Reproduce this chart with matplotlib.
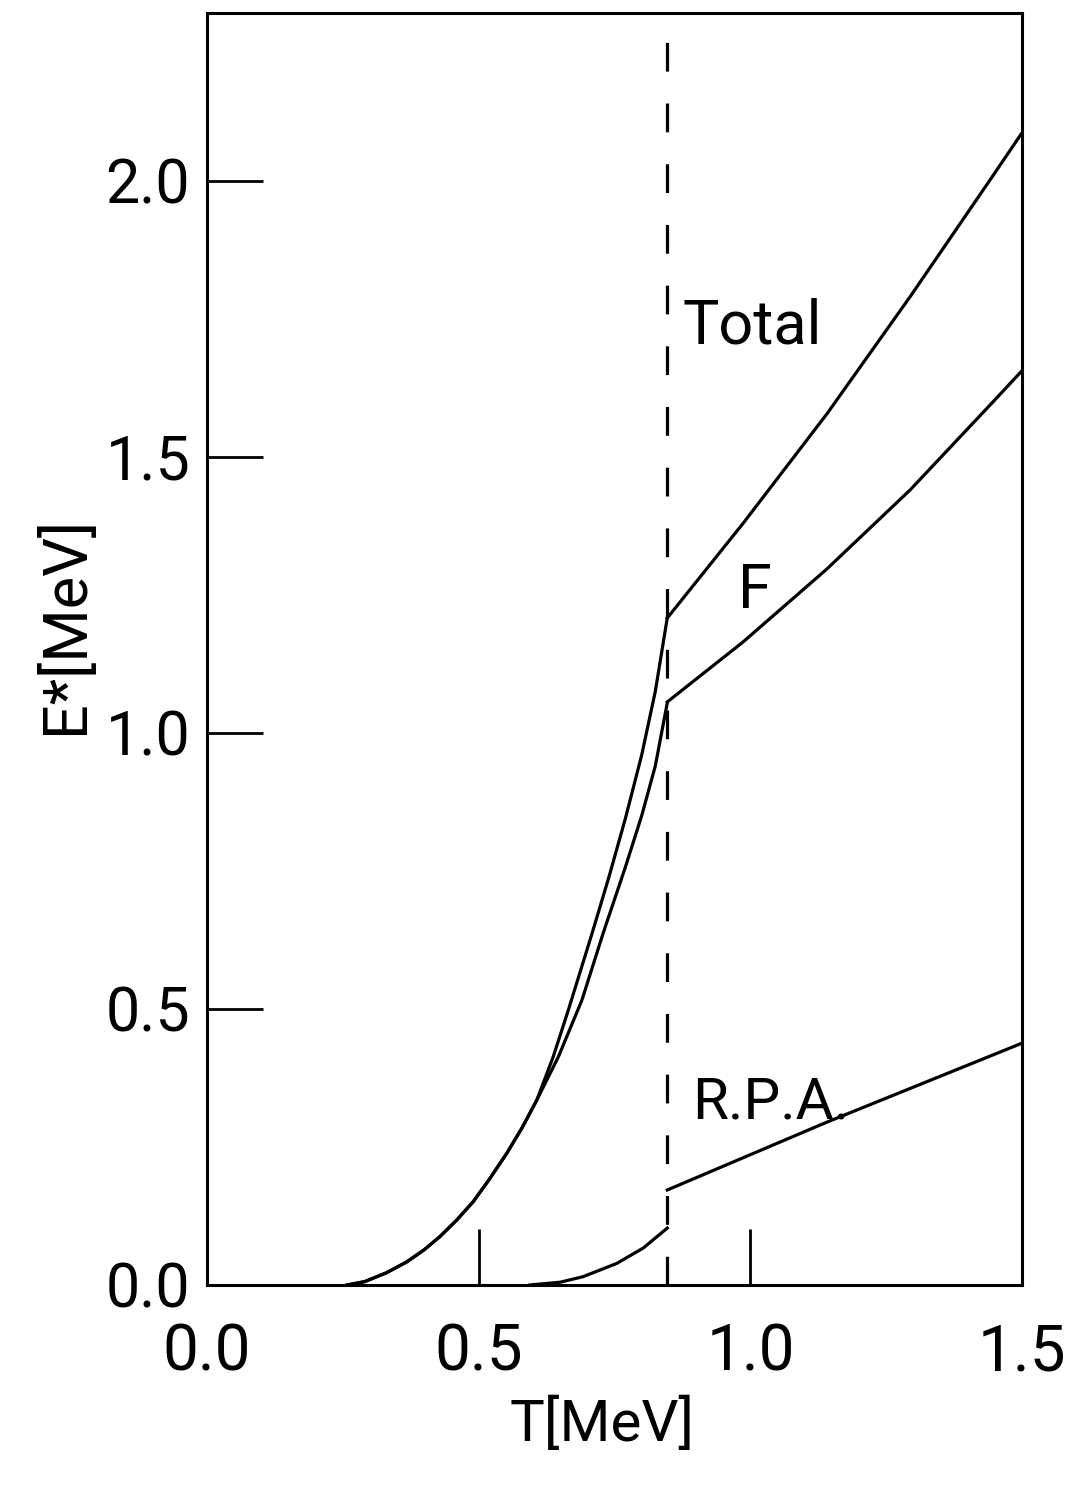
import matplotlib
matplotlib.use('Agg')
import matplotlib.pyplot as plt

# низкотемпературная ветвь (общая часть Total и F до расхождения)
T_total_lo = [0.258, 0.290, 0.330, 0.368, 0.400, 0.429, 0.460, 0.490, 0.520, 0.552, 0.580, 0.607,
              0.637, 0.665, 0.709, 0.740, 0.770, 0.800, 0.825, 0.847]
E_total_lo = [0.000, 0.006, 0.022, 0.042, 0.064, 0.088, 0.118, 0.151, 0.192, 0.239, 0.285, 0.335,
              0.413, 0.498, 0.638, 0.740, 0.845, 0.960, 1.075, 1.208]

T_f_lo = [0.258, 0.290, 0.330, 0.368, 0.400, 0.429, 0.460, 0.490, 0.520, 0.552, 0.580, 0.607,
          0.647, 0.690, 0.729, 0.770, 0.800, 0.825, 0.847]
E_f_lo = [0.000, 0.006, 0.022, 0.042, 0.064, 0.088, 0.118, 0.151, 0.192, 0.239, 0.285, 0.335,
          0.414, 0.516, 0.637, 0.757, 0.850, 0.940, 1.054]

T_rpa_lo = [0.594, 0.650, 0.692, 0.754, 0.803, 0.847]
E_rpa_lo = [0.000, 0.005, 0.015, 0.039, 0.067, 0.103]

# выше критической температуры
T_hi = [0.847, 0.987, 1.141, 1.294, 1.447, 1.500]
E_total_hi = [1.208, 1.380, 1.578, 1.790, 2.010, 2.087]
E_f_hi = [1.056, 1.165, 1.297, 1.440, 1.600, 1.656]

T_rpa_hi = [0.847, 1.141, 1.500]
E_rpa_hi = [0.172, 0.295, 0.438]

T_crit = 0.847

x_ticks = [0.0, 0.5, 1.0, 1.5]
y_ticks = [0.0, 0.5, 1.0, 1.5, 2.0]
x_labels = ['0.0', '0.5', '1.0', '1.5']
y_labels = ['0.0', '0.5', '1.0', '1.5', '2.0']

plt.rcParams['font.family'] = ['Roboto', 'DejaVu Sans']
plt.rcParams['font.weight'] = 'normal'

fig = plt.figure(figsize=(10.71, 14.85), dpi=100)
ax = fig.add_axes([0.1933, 0.1347, 0.761, 0.8566])

lw = 2.3
ax.plot(T_total_lo, E_total_lo, color='black', lw=lw)
ax.plot(T_f_lo, E_f_lo, color='black', lw=lw)
ax.plot(T_rpa_lo, E_rpa_lo, color='black', lw=lw)
ax.plot(T_hi, E_total_hi, color='black', lw=lw)
ax.plot(T_hi, E_f_hi, color='black', lw=lw)
ax.plot(T_rpa_hi, E_rpa_hi, color='black', lw=lw)

ax.axvline(T_crit, color='black', lw=lw, dashes=(9, 10))

ax.set_xlim(0, 1.5)
ax.set_ylim(0, 2.304)

ax.set_xticks(x_ticks)
ax.set_xticklabels(x_labels, fontsize=46)
ax.set_yticks(y_ticks)
ax.set_yticklabels(y_labels, fontsize=44)
ax.tick_params(axis='both', direction='in', length=40, width=2.0, color='black')
ax.tick_params(axis='x', pad=26)
ax.tick_params(axis='y', pad=12)

for s in ax.spines.values():
    s.set_linewidth(2.2)

ax.text(0.876, 1.706, 'Total', fontsize=44)
ax.text(0.977, 1.226, 'F', fontsize=44)
ax.text(0.893, 0.302, 'R.P.A.', fontsize=42)

ax.set_xlabel('T[MeV]', fontsize=42, va='center')
ax.xaxis.set_label_coords(0.485, -0.110)
ax.set_ylabel('E*[MeV]', fontsize=44, va='center')
ax.yaxis.set_label_coords(-0.174, 0.519)

fig.savefig('out.png', dpi=100)
